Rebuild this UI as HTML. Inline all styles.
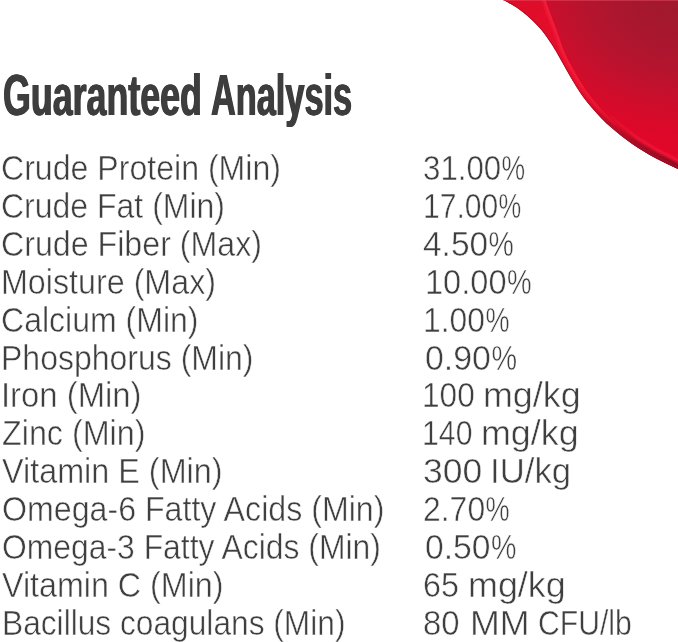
<!DOCTYPE html>
<html lang="en">
<head>
<meta charset="utf-8">
<title>Guaranteed Analysis</title>
<style>
html,body{margin:0;padding:0;background:#fff;}
body{width:678px;height:642px;position:relative;overflow:hidden;font-family:"Liberation Sans",Arial,sans-serif;color:#3f3f3f;}
.swoosh{position:absolute;left:0;top:0;width:678px;height:642px;}
.t{position:absolute;white-space:nowrap;transform-origin:0 0;font-size:34.2px;line-height:40px;height:40px;margin:0;font-weight:400;-webkit-text-stroke:0.5px #fff;}
.p{display:inline-block;transform:scaleX(0.85);transform-origin:0 50%;}
h1{margin:0;font-size:57.2px;line-height:60px;font-weight:700;color:#3d3d3d;}
h1 span{position:absolute;white-space:nowrap;transform-origin:0 0;height:60px;text-shadow:0.9px 0 0 #3d3d3d,-0.9px 0 0 #3d3d3d;}
</style>
</head>
<body>
<svg class="swoosh" width="678" height="642" viewBox="0 0 678 642">
<defs>
<radialGradient id="gi" gradientUnits="userSpaceOnUse" cx="690" cy="-5" r="172" gradientTransform="translate(690 -5) scale(1.35 1) translate(-690 5)"><stop offset="0" stop-color="#9e1a2d"/><stop offset="0.28" stop-color="#a8172e"/><stop offset="0.45" stop-color="#b6142e"/><stop offset="0.58" stop-color="#c5102d"/><stop offset="0.68" stop-color="#d20c2b"/><stop offset="0.8" stop-color="#dd0829"/><stop offset="1" stop-color="#e40628"/></radialGradient>
<linearGradient id="gb" gradientUnits="userSpaceOnUse" x1="505" y1="0" x2="678" y2="165"><stop offset="0" stop-color="#dc0c2a"/><stop offset="0.3" stop-color="#e60f2c"/><stop offset="0.6" stop-color="#e40e2b"/><stop offset="0.72" stop-color="#c80e29"/><stop offset="0.83" stop-color="#a80f27"/><stop offset="1" stop-color="#921024"/></linearGradient>
<linearGradient id="ge" gradientUnits="userSpaceOnUse" x1="505" y1="0" x2="678" y2="165"><stop offset="0" stop-color="#a80a22" stop-opacity="0.9"/><stop offset="0.6" stop-color="#b00a24" stop-opacity="0.7"/><stop offset="1" stop-color="#8a0c20" stop-opacity="0.9"/></linearGradient>
<linearGradient id="gh" gradientUnits="userSpaceOnUse" x1="505" y1="0" x2="678" y2="165"><stop offset="0" stop-color="#f5223e" stop-opacity="0.9"/><stop offset="0.45" stop-color="#f5223e" stop-opacity="0.75"/><stop offset="0.65" stop-color="#f21e3a" stop-opacity="0.3"/><stop offset="0.75" stop-color="#f01c38" stop-opacity="0"/></linearGradient>
<linearGradient id="gh2" gradientUnits="userSpaceOnUse" x1="505" y1="0" x2="678" y2="165"><stop offset="0.6" stop-color="#f41a3c" stop-opacity="0"/><stop offset="0.8" stop-color="#f41a3c" stop-opacity="0.75"/><stop offset="1" stop-color="#f41a3c" stop-opacity="0.8"/></linearGradient>
<linearGradient id="ge2" gradientUnits="userSpaceOnUse" x1="505" y1="0" x2="678" y2="165"><stop offset="0.5" stop-color="#a50d26" stop-opacity="0"/><stop offset="0.7" stop-color="#a50d26" stop-opacity="0.8"/><stop offset="1" stop-color="#9a0f26" stop-opacity="0.9"/></linearGradient>
<filter id="bl" x="-10%" y="-10%" width="120%" height="120%"><feGaussianBlur stdDeviation="1.8"/></filter>
<filter id="bl3" x="-10%" y="-10%" width="120%" height="120%"><feGaussianBlur stdDeviation="1.1"/></filter>
<filter id="bl2" x="-10%" y="-10%" width="120%" height="120%"><feGaussianBlur stdDeviation="0.8"/></filter>
<clipPath id="cs"><path d="M499.1 -2.1 C503.2 -0.2 507.3 2.0 511.2 4.3 C515.1 6.6 518.9 9.1 522.4 11.8 C525.9 14.5 529.3 17.3 532.5 20.4 C535.7 23.4 538.7 26.7 541.5 30.1 C544.3 33.5 546.8 37.1 549.3 40.7 C551.8 44.4 554.1 48.1 556.4 52.0 C558.7 55.9 560.8 59.9 563.0 63.8 C565.2 67.7 567.4 71.7 569.6 75.6 C571.9 79.5 574.1 83.3 576.5 87.1 C578.9 90.9 581.4 94.6 584.1 98.2 C586.8 101.8 589.6 105.2 592.5 108.6 C595.4 112.0 598.5 115.2 601.6 118.4 C604.7 121.6 608.0 124.5 611.3 127.5 C614.6 130.4 618.0 133.3 621.5 136.1 C625.0 138.8 628.6 141.5 632.3 144.0 C636.0 146.5 639.8 149.0 643.6 151.3 C647.4 153.6 651.3 155.9 655.3 158.0 C659.2 160.1 663.3 162.2 667.3 164.1 C671.3 166.0 675.4 167.9 679.5 169.6 L700 -10 L486 -10 Z"/></clipPath>
<clipPath id="cb"><path d="M499.1 -2.1 C503.2 -0.2 507.3 2.0 511.2 4.3 C515.1 6.6 518.9 9.1 522.4 11.8 C525.9 14.5 529.3 17.3 532.5 20.4 C535.7 23.4 538.7 26.7 541.5 30.1 C544.3 33.5 546.8 37.1 549.3 40.7 C551.8 44.4 554.1 48.1 556.4 52.0 C558.7 55.9 560.8 59.9 563.0 63.8 C565.2 67.7 567.4 71.7 569.6 75.6 C571.9 79.5 574.1 83.3 576.5 87.1 C578.9 90.9 581.4 94.6 584.1 98.2 C586.8 101.8 589.6 105.2 592.5 108.6 C595.4 112.0 598.5 115.2 601.6 118.4 C604.7 121.6 608.0 124.5 611.3 127.5 C614.6 130.4 618.0 133.3 621.5 136.1 C625.0 138.8 628.6 141.5 632.3 144.0 C636.0 146.5 639.8 149.0 643.6 151.3 C647.4 153.6 651.3 155.9 655.3 158.0 C659.2 160.1 663.3 162.2 667.3 164.1 C671.3 166.0 675.4 167.9 679.5 169.6 L681.9 163.8 C676.9 162.5 673.9 160.3 670.0 158.4 C666.1 156.5 662.1 154.6 658.3 152.5 C654.4 150.4 650.6 148.2 646.9 145.9 C643.2 143.6 639.5 141.3 635.9 138.8 C632.3 136.3 628.8 133.8 625.4 131.1 C622.0 128.4 618.7 125.6 615.5 122.8 C612.3 120.0 609.1 117.0 606.1 114.0 C603.1 111.0 600.1 107.8 597.3 104.5 C594.5 101.2 591.8 97.9 589.2 94.4 C586.6 90.9 584.1 87.4 581.8 83.7 C579.4 80.0 577.3 76.2 575.1 72.4 C572.9 68.6 570.4 64.4 568.5 60.7 C566.6 57.0 564.9 53.5 563.5 50.0 C562.1 46.5 561.2 43.3 560.0 40.0 C558.8 36.7 557.7 33.3 556.5 30.0 C555.3 26.7 554.0 23.3 552.7 20.0 C551.5 16.7 550.2 13.3 549.0 10.0 C547.8 6.7 546.4 2.2 545.6 0.0 C544.8 -2.2 544.8 -2.2 544.4 -3.5 Z"/></clipPath>
</defs>
<path d="M499.1 -2.1 C503.2 -0.2 507.3 2.0 511.2 4.3 C515.1 6.6 518.9 9.1 522.4 11.8 C525.9 14.5 529.3 17.3 532.5 20.4 C535.7 23.4 538.7 26.7 541.5 30.1 C544.3 33.5 546.8 37.1 549.3 40.7 C551.8 44.4 554.1 48.1 556.4 52.0 C558.7 55.9 560.8 59.9 563.0 63.8 C565.2 67.7 567.4 71.7 569.6 75.6 C571.9 79.5 574.1 83.3 576.5 87.1 C578.9 90.9 581.4 94.6 584.1 98.2 C586.8 101.8 589.6 105.2 592.5 108.6 C595.4 112.0 598.5 115.2 601.6 118.4 C604.7 121.6 608.0 124.5 611.3 127.5 C614.6 130.4 618.0 133.3 621.5 136.1 C625.0 138.8 628.6 141.5 632.3 144.0 C636.0 146.5 639.8 149.0 643.6 151.3 C647.4 153.6 651.3 155.9 655.3 158.0 C659.2 160.1 663.3 162.2 667.3 164.1 C671.3 166.0 675.4 167.9 679.5 169.6 L700 -10 L486 -10 Z" fill="url(#gi)"/>
<path d="M499.1 -2.1 C503.2 -0.2 507.3 2.0 511.2 4.3 C515.1 6.6 518.9 9.1 522.4 11.8 C525.9 14.5 529.3 17.3 532.5 20.4 C535.7 23.4 538.7 26.7 541.5 30.1 C544.3 33.5 546.8 37.1 549.3 40.7 C551.8 44.4 554.1 48.1 556.4 52.0 C558.7 55.9 560.8 59.9 563.0 63.8 C565.2 67.7 567.4 71.7 569.6 75.6 C571.9 79.5 574.1 83.3 576.5 87.1 C578.9 90.9 581.4 94.6 584.1 98.2 C586.8 101.8 589.6 105.2 592.5 108.6 C595.4 112.0 598.5 115.2 601.6 118.4 C604.7 121.6 608.0 124.5 611.3 127.5 C614.6 130.4 618.0 133.3 621.5 136.1 C625.0 138.8 628.6 141.5 632.3 144.0 C636.0 146.5 639.8 149.0 643.6 151.3 C647.4 153.6 651.3 155.9 655.3 158.0 C659.2 160.1 663.3 162.2 667.3 164.1 C671.3 166.0 675.4 167.9 679.5 169.6 L681.9 163.8 C676.9 162.5 673.9 160.3 670.0 158.4 C666.1 156.5 662.1 154.6 658.3 152.5 C654.4 150.4 650.6 148.2 646.9 145.9 C643.2 143.6 639.5 141.3 635.9 138.8 C632.3 136.3 628.8 133.8 625.4 131.1 C622.0 128.4 618.7 125.6 615.5 122.8 C612.3 120.0 609.1 117.0 606.1 114.0 C603.1 111.0 600.1 107.8 597.3 104.5 C594.5 101.2 591.8 97.9 589.2 94.4 C586.6 90.9 584.1 87.4 581.8 83.7 C579.4 80.0 577.3 76.2 575.1 72.4 C572.9 68.6 570.4 64.4 568.5 60.7 C566.6 57.0 564.9 53.5 563.5 50.0 C562.1 46.5 561.2 43.3 560.0 40.0 C558.8 36.7 557.7 33.3 556.5 30.0 C555.3 26.7 554.0 23.3 552.7 20.0 C551.5 16.7 550.2 13.3 549.0 10.0 C547.8 6.7 546.4 2.2 545.6 0.0 C544.8 -2.2 544.8 -2.2 544.4 -3.5 Z" fill="url(#gb)" filter="url(#bl2)" clip-path="url(#cs)"/>
<g clip-path="url(#cb)">
<path d="M544.4 -3.5 C544.8 -2.2 544.8 -2.2 545.6 0.0 C546.4 2.2 547.8 6.7 549.0 10.0 C550.2 13.3 551.5 16.7 552.7 20.0 C554.0 23.3 555.3 26.7 556.5 30.0 C557.7 33.3 558.8 36.7 560.0 40.0 C561.2 43.3 562.1 46.5 563.5 50.0 C564.9 53.5 566.6 57.0 568.5 60.7 C570.4 64.4 572.9 68.6 575.1 72.4 C577.3 76.2 579.4 80.0 581.8 83.7 C584.1 87.4 586.6 90.9 589.2 94.4 C591.8 97.9 594.5 101.2 597.3 104.5 C600.1 107.8 603.1 111.0 606.1 114.0 C609.1 117.0 612.3 120.0 615.5 122.8 C618.7 125.6 622.0 128.4 625.4 131.1 C628.8 133.8 632.3 136.3 635.9 138.8 C639.5 141.3 643.2 143.6 646.9 145.9 C650.6 148.2 654.4 150.4 658.3 152.5 C662.1 154.6 666.1 156.5 670.0 158.4 C673.9 160.3 676.9 162.5 681.9 163.8" fill="none" stroke="url(#gh)" stroke-width="6" filter="url(#bl)"/>
</g>
<g clip-path="url(#cs)">
<path d="M544.4 -3.5 C544.8 -2.2 544.8 -2.2 545.6 0.0 C546.4 2.2 547.8 6.7 549.0 10.0 C550.2 13.3 551.5 16.7 552.7 20.0 C554.0 23.3 555.3 26.7 556.5 30.0 C557.7 33.3 558.8 36.7 560.0 40.0 C561.2 43.3 562.1 46.5 563.5 50.0 C564.9 53.5 566.6 57.0 568.5 60.7 C570.4 64.4 572.9 68.6 575.1 72.4 C577.3 76.2 579.4 80.0 581.8 83.7 C584.1 87.4 586.6 90.9 589.2 94.4 C591.8 97.9 594.5 101.2 597.3 104.5 C600.1 107.8 603.1 111.0 606.1 114.0 C609.1 117.0 612.3 120.0 615.5 122.8 C618.7 125.6 622.0 128.4 625.4 131.1 C628.8 133.8 632.3 136.3 635.9 138.8 C639.5 141.3 643.2 143.6 646.9 145.9 C650.6 148.2 654.4 150.4 658.3 152.5 C662.1 154.6 666.1 156.5 670.0 158.4 C673.9 160.3 676.9 162.5 681.9 163.8" fill="none" stroke="url(#gh2)" stroke-width="3" filter="url(#bl3)" transform="translate(1 -1.4)"/>
<path d="M499.1 -2.1 C503.2 -0.2 507.3 2.0 511.2 4.3 C515.1 6.6 518.9 9.1 522.4 11.8 C525.9 14.5 529.3 17.3 532.5 20.4 C535.7 23.4 538.7 26.7 541.5 30.1 C544.3 33.5 546.8 37.1 549.3 40.7 C551.8 44.4 554.1 48.1 556.4 52.0 C558.7 55.9 560.8 59.9 563.0 63.8 C565.2 67.7 567.4 71.7 569.6 75.6 C571.9 79.5 574.1 83.3 576.5 87.1 C578.9 90.9 581.4 94.6 584.1 98.2 C586.8 101.8 589.6 105.2 592.5 108.6 C595.4 112.0 598.5 115.2 601.6 118.4 C604.7 121.6 608.0 124.5 611.3 127.5 C614.6 130.4 618.0 133.3 621.5 136.1 C625.0 138.8 628.6 141.5 632.3 144.0 C636.0 146.5 639.8 149.0 643.6 151.3 C647.4 153.6 651.3 155.9 655.3 158.0 C659.2 160.1 663.3 162.2 667.3 164.1 C671.3 166.0 675.4 167.9 679.5 169.6" fill="none" stroke="url(#ge2)" stroke-width="5" filter="url(#bl2)"/>
<path d="M499.1 -2.1 C503.2 -0.2 507.3 2.0 511.2 4.3 C515.1 6.6 518.9 9.1 522.4 11.8 C525.9 14.5 529.3 17.3 532.5 20.4 C535.7 23.4 538.7 26.7 541.5 30.1 C544.3 33.5 546.8 37.1 549.3 40.7 C551.8 44.4 554.1 48.1 556.4 52.0 C558.7 55.9 560.8 59.9 563.0 63.8 C565.2 67.7 567.4 71.7 569.6 75.6 C571.9 79.5 574.1 83.3 576.5 87.1 C578.9 90.9 581.4 94.6 584.1 98.2 C586.8 101.8 589.6 105.2 592.5 108.6 C595.4 112.0 598.5 115.2 601.6 118.4 C604.7 121.6 608.0 124.5 611.3 127.5 C614.6 130.4 618.0 133.3 621.5 136.1 C625.0 138.8 628.6 141.5 632.3 144.0 C636.0 146.5 639.8 149.0 643.6 151.3 C647.4 153.6 651.3 155.9 655.3 158.0 C659.2 160.1 663.3 162.2 667.3 164.1 C671.3 166.0 675.4 167.9 679.5 169.6" fill="none" stroke="url(#ge)" stroke-width="1.6"/>
</g>
<rect x="503" y="0" width="175" height="1" fill="#e8506a" opacity="0.45"/>
</svg>
<h1><span style="left:2.58px;top:65.48px;transform:scaleX(0.6259)">Guaranteed</span> <span style="left:210.60px;top:65.48px;transform:scaleX(0.6001)">Analysis</span></h1>
<div class="table">
<div class="row"><div class="t" style="left:1.47px;top:147.75px;transform:scaleX(0.9387)">Crude Protein (Min)</div> <div class="t" style="left:422.81px;top:147.75px;transform:scaleX(0.9141)">31.00<span class="p">%</span></div></div>
<div class="row"><div class="t" style="left:1.47px;top:185.70px;transform:scaleX(0.9358)">Crude Fat (Min)</div> <div class="t" style="left:422.71px;top:185.70px;transform:scaleX(0.8788)">17.00<span class="p">%</span></div></div>
<div class="row"><div class="t" style="left:1.47px;top:223.65px;transform:scaleX(0.9411)">Crude Fiber (Max)</div> <div class="t" style="left:423.23px;top:223.65px;transform:scaleX(0.9793)">4.50<span class="p">%</span></div></div>
<div class="row"><div class="t" style="left:1.45px;top:261.60px;transform:scaleX(0.9434)">Moisture (Max)</div> <div class="t" style="left:424.52px;top:261.60px;transform:scaleX(0.9530)">10.00<span class="p">%</span></div></div>
<div class="row"><div class="t" style="left:1.47px;top:299.55px;transform:scaleX(0.9368)">Calcium (Min)</div> <div class="t" style="left:422.57px;top:299.55px;transform:scaleX(0.9318)">1.00<span class="p">%</span></div></div>
<div class="row"><div class="t" style="left:1.47px;top:337.50px;transform:scaleX(0.9359)">Phosphorus (Min)</div> <div class="t" style="left:424.68px;top:337.50px;transform:scaleX(0.9909)">0.90<span class="p">%</span></div></div>
<div class="row"><div class="t" style="left:1.07px;top:375.45px;transform:scaleX(0.9604)">Iron (Min)</div> <div class="t" style="left:422.19px;top:375.45px;transform:scaleX(0.9246)">100 </div> <div class="t" style="left:483.32px;top:375.45px;transform:scaleX(1.0481)">mg/kg</div></div>
<div class="row"><div class="t" style="left:2.08px;top:413.40px;transform:scaleX(0.9439)">Zinc (Min)</div> <div class="t" style="left:422.29px;top:413.40px;transform:scaleX(0.8850)">140 </div> <div class="t" style="left:481.42px;top:413.40px;transform:scaleX(1.0481)">mg/kg</div></div>
<div class="row"><div class="t" style="left:2.46px;top:451.35px;transform:scaleX(0.9464)">Vitamin E (Min)</div> <div class="t" style="left:423.25px;top:451.35px;transform:scaleX(1.0384)">300 </div> <div class="t" style="left:490.39px;top:451.35px;transform:scaleX(1.0170)">IU/kg</div></div>
<div class="row"><div class="t" style="left:1.58px;top:489.30px;transform:scaleX(0.9406)">Omega-6 Fatty Acids (Min)</div> <div class="t" style="left:423.39px;top:489.30px;transform:scaleX(0.9338)">2.70<span class="p">%</span></div></div>
<div class="row"><div class="t" style="left:1.59px;top:527.25px;transform:scaleX(0.9319)">Omega-3 Fatty Acids (Min)</div> <div class="t" style="left:424.68px;top:527.25px;transform:scaleX(0.9853)">0.50<span class="p">%</span></div></div>
<div class="row"><div class="t" style="left:2.46px;top:565.20px;transform:scaleX(0.9430)">Vitamin C (Min)</div> <div class="t" style="left:423.26px;top:565.20px;transform:scaleX(0.9438)">65 </div> <div class="t" style="left:467.82px;top:565.20px;transform:scaleX(1.0493)">mg/kg</div></div>
<div class="row"><div class="t" style="left:1.50px;top:603.15px;transform:scaleX(0.9270)">Bacillus coagulans (Min)</div> <div class="t" style="left:423.47px;top:603.15px;transform:scaleX(0.9628)">80 </div> <div class="t" style="left:470.06px;top:603.15px;transform:scaleX(1.0476)">MM </div> <div class="t" style="left:537.67px;top:603.15px;transform:scaleX(0.8818)">CFU/lb</div></div>
</div>
</body>
</html>
